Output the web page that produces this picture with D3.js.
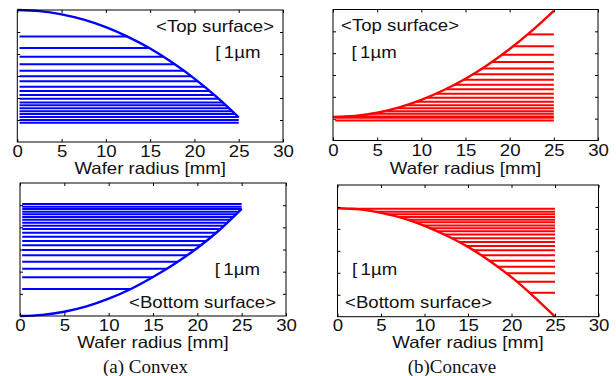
<!DOCTYPE html>
<html>
<head>
<meta charset="utf-8">
<script src="https://cdn.jsdelivr.net/npm/d3@7"></script>
<style>
    body { margin: 0; background: #fff; }
    svg { display: block; }
    text { font-family: "Liberation Sans", Arial, sans-serif; fill: #111; }
    .caption { font-family: "Liberation Serif", "Times New Roman", serif; }
</style>
</head>
<body>
<div id="my_dataviz"></div>
<script>

    // wafer radius [mm] where the profile curves were read
    const radius = [0, 2.5, 5, 7.5, 10, 12.5, 15, 17.5, 20, 22.5, 25];
    const xTicks = [0, 5, 10, 15, 20, 25, 30];
    const yTicks = [1, 2, 3, 4, 5];   // unlabelled height ticks

    // (a) convex - top surface
    const convexTopCurve = [6.00, 5.95, 5.80, 5.56, 5.22, 4.78, 4.25, 3.61, 2.88, 2.05, 1.12];
    const convexTopLevels = [4.79, 4.27, 3.88, 3.53, 3.24, 2.99, 2.76, 2.51, 2.32, 2.14, 1.97, 1.80, 1.67, 1.53, 1.40, 1.27, 1.14, 1.00, 0.88];

    // (b) concave - top surface
    const concaveTopCurve = [1.08, 1.13, 1.27, 1.52, 1.86, 2.30, 2.83, 3.46, 4.19, 5.02, 5.94];
    const concaveTopLevels = [4.86, 4.32, 3.93, 3.59, 3.30, 3.04, 2.78, 2.55, 2.35, 2.14, 1.96, 1.77, 1.62, 1.48, 1.34, 1.22, 1.10, 1.04, 0.92];

    // (a) convex - bottom surface
    const convexBottomCurve = [0, 0.05, 0.19, 0.43, 0.78, 1.22, 1.76, 2.37, 3.07, 3.88, 4.83];
    const convexBottomLevels = [5.05, 4.93, 4.83, 4.70, 4.59, 4.47, 4.34, 4.21, 4.07, 3.92, 3.76, 3.58, 3.38, 3.19, 2.98, 2.74, 2.45, 2.13, 1.75, 1.22];

    // (b) concave - bottom surface
    const concaveBottomCurve = [4.94, 4.89, 4.73, 4.49, 4.14, 3.70, 3.18, 2.54, 1.80, 0.94, 0];
    const concaveBottomLevels = [4.92, 4.78, 4.67, 4.54, 4.42, 4.30, 4.16, 4.03, 3.89, 3.74, 3.57, 3.40, 3.22, 3.03, 2.80, 2.55, 2.28, 1.98, 1.59, 1.09];

    const lineStart = 0.25;
    const lineEnd = 25;
    const sx = 1.13;        // the figure text is a little wide
    const fontSize = 16.5;

    const panels = [
        { x0: 17.3, x1: 283, yb: 142, yt: 10, tickY: 156.5, labelY: 173.5, color: "#0000ff",
          curve: convexTopCurve, levels: convexTopLevels, convex: true,
          title: "<Top surface>", titleX: 156, titleY: 32, barX: 215.3, barY: 58 },
        { x0: 333, x1: 598, yb: 140.5, yt: 9.5, tickY: 156.5, labelY: 173.5, color: "#ff0000",
          curve: concaveTopCurve, levels: concaveTopLevels, convex: false,
          title: "<Top surface>", titleX: 341, titleY: 31, barX: 351.5, barY: 58 },
        { x0: 20, x1: 286, yb: 316, yt: 183, tickY: 331, labelY: 348, color: "#0000ff",
          curve: convexBottomCurve, levels: convexBottomLevels, convex: true,
          title: "<Bottom surface>", titleX: 129, titleY: 307.5, barX: 214.8, barY: 274.5 },
        { x0: 337.5, x1: 598.5, yb: 316.7, yt: 185, tickY: 331, labelY: 348, color: "#ff0000",
          curve: concaveBottomCurve, levels: concaveBottomLevels, convex: false,
          title: "<Bottom surface>", titleX: 345, titleY: 308, barX: 352, barY: 274.5 }
    ];

    const svg = d3.select("#my_dataviz")
        .append("svg")
        .attr("width", 616)
        .attr("height", 376);

    // find where the drawn profile crosses a given pixel height
    function crossX(node, yPix) {
        const len = node.getTotalLength();
        let prev = node.getPointAtLength(0);
        for (let s = 0.5; s <= len + 0.5; s += 0.5) {
            const p = node.getPointAtLength(Math.min(s, len));
            if ((prev.y - yPix) * (p.y - yPix) <= 0) {
                const t = p.y === prev.y ? 0 : (yPix - prev.y) / (p.y - prev.y);
                return prev.x + t * (p.x - prev.x);
            }
            prev = p;
        }
        return null;
    }

    function wideText(g, txt, x, y, anchor) {
        return g.append("text")
            .attr("transform", `translate(${x},${y}) scale(${sx},1)`)
            .attr("text-anchor", anchor)
            .style("font-size", fontSize + "px")
            .text(txt);
    }

    panels.forEach(p => {
        const x = d3.scaleLinear().domain([0, 30]).range([p.x0, p.x1]);
        const y = d3.scaleLinear().domain([0, 6]).range([p.yb, p.yt]);
        const g = svg.append("g");

        const linesG = g.append("g");

        // profile curve
        const curvePath = g.append("path")
            .datum(radius.map((r, i) => [r, p.curve[i]]))
            .attr("fill", "none")
            .attr("stroke", p.color)
            .attr("stroke-width", 2.4)
            .attr("d", d3.line().x(d => x(d[0])).y(d => y(d[1])).curve(d3.curveMonotoneX));

        const node = curvePath.node();

        // horizontal level lines, cut by the profile
        linesG.selectAll("line")
            .data(p.levels)
            .enter()
            .append("line")
            .each(function (lv) {
                const c = crossX(node, y(lv));
                let a, b;
                if (p.convex) {
                    a = x(lineStart);
                    b = c === null ? x(lineEnd) : Math.min(c, x(lineEnd));
                } else {
                    a = c === null ? x(lineStart) : Math.max(c, x(lineStart));
                    b = x(lineEnd);
                }
                d3.select(this)
                    .attr("x1", a).attr("x2", b)
                    .attr("y1", y(lv)).attr("y2", y(lv));
            })
            .attr("stroke", p.color)
            .attr("stroke-width", 2);

        // box
        g.append("rect")
            .attr("x", p.x0).attr("y", p.yt)
            .attr("width", p.x1 - p.x0).attr("height", p.yb - p.yt)
            .attr("fill", "none")
            .attr("stroke", "#000")
            .attr("stroke-width", 1);

        // ticks on all four sides, pointing inwards
        const bottom = g.append("g")
            .attr("transform", `translate(0,${p.yb})`)
            .call(d3.axisBottom(x).tickValues(xTicks).tickSizeInner(-3).tickSizeOuter(0));
        bottom.select(".domain").remove();
        bottom.selectAll("text")
            .attr("y", p.tickY - p.yb)
            .attr("dy", null)
            .attr("transform", `scale(${sx},1)`)
            .style("font-size", fontSize + "px")
            .style("font-family", "'Liberation Sans', Arial, sans-serif")
            .attr("fill", "#111");

        const top = g.append("g")
            .attr("transform", `translate(0,${p.yt})`)
            .call(d3.axisTop(x).tickValues(xTicks).tickSizeInner(-3).tickSizeOuter(0).tickFormat(""));
        top.select(".domain").remove();

        const left = g.append("g")
            .attr("transform", `translate(${p.x0},0)`)
            .call(d3.axisLeft(y).tickValues(yTicks).tickSizeInner(-3).tickSizeOuter(0).tickFormat(""));
        left.select(".domain").remove();

        const right = g.append("g")
            .attr("transform", `translate(${p.x1},0)`)
            .call(d3.axisRight(y).tickValues(yTicks).tickSizeInner(-3).tickSizeOuter(0).tickFormat(""));
        right.select(".domain").remove();

        // x label
        wideText(g, "Wafer radius [mm]", (p.x0 + p.x1) / 2, p.labelY, "middle");

        // surface name and 1um scale
        wideText(g, p.title, p.titleX, p.titleY, "start");
        const bar = wideText(g, "", p.barX, p.barY, "start");
        bar.append("tspan").text("[");
        bar.append("tspan").attr("dx", 3).text("1µm");
    });

    // captions
    svg.append("text")
        .attr("class", "caption")
        .attr("x", 145.5)
        .attr("y", 372.5)
        .attr("text-anchor", "middle")
        .style("font-size", "19px")
        .text("(a) Convex");

    svg.append("text")
        .attr("class", "caption")
        .attr("x", 452)
        .attr("y", 372.5)
        .attr("text-anchor", "middle")
        .style("font-size", "19px")
        .text("(b)Concave");

</script>
</body>
</html>
